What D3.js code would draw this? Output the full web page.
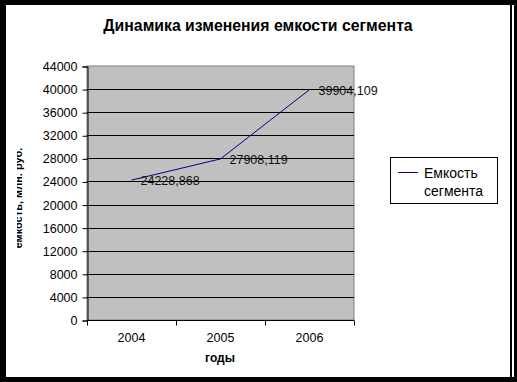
<!DOCTYPE html>
<html lang="ru">
<head>
<meta charset="UTF-8">
<title>Динамика изменения емкости сегмента</title>
<script src="https://cdn.jsdelivr.net/npm/d3@7"></script>
<style>
  body { margin: 0; background: #fff; }
  svg { display: block; font-family: "Liberation Sans", Arial, sans-serif; }
</style>
</head>
<body>
<svg id="chart" width="517" height="382"></svg>
<script>
var years = ["2004", "2005", "2006"];
var capacity = [24228.868, 27908.119, 39904.109];
var valueLabels = ["24228,868", "27908,119", "39904,109"];
var yTicks = [0, 4000, 8000, 12000, 16000, 20000, 24000, 28000, 32000, 36000, 40000, 44000];

var svg = d3.select("#chart");

// black frame around the picture
svg.append("rect").attr("width", 517).attr("height", 382).attr("fill", "#000");
svg.append("rect").attr("x", 6).attr("y", 5).attr("width", 508).attr("height", 372).attr("fill", "#fff");
svg.append("rect").attr("x", 510).attr("y", 5).attr("width", 2).attr("height", 372).attr("fill", "#000");

var plot = {left: 87, top: 66, right: 354, bottom: 320};

var x = d3.scaleBand().domain(years).range([plot.left, plot.right]);
var y = d3.scaleLinear().domain([0, 44000]).range([plot.bottom, plot.top]);

svg.append("rect")
    .attr("x", plot.left).attr("y", plot.top)
    .attr("width", plot.right - plot.left).attr("height", plot.bottom - plot.top)
    .attr("fill", "#c0c0c0").attr("stroke", "#808080").attr("stroke-width", 1);

// gridlines
svg.append("g").selectAll("line").data(yTicks.slice(1, -1)).join("line")
    .attr("x1", plot.left).attr("x2", plot.right)
    .attr("y1", function (d) { return Math.round(y(d)) + 0.5; })
    .attr("y2", function (d) { return Math.round(y(d)) + 0.5; })
    .attr("stroke", "#000");

var yAxis = svg.append("g")
    .attr("transform", "translate(" + (plot.left + 0.5) + ",0.5)")
    .call(d3.axisLeft(y).tickValues(yTicks).tickSize(5).tickPadding(5).tickFormat(d3.format("d")));
yAxis.select(".domain").attr("stroke", "#000");
yAxis.selectAll("text").attr("font-size", 12.5).attr("fill", "#000").attr("font-family", "Liberation Sans, Arial, sans-serif");

var xAxis = svg.append("g").attr("transform", "translate(0," + (plot.bottom + 0.5) + ")");
xAxis.append("line").attr("x1", plot.left).attr("x2", plot.right).attr("stroke", "#000");
var bounds = years.map(function (d) { return x(d); }).concat([plot.right]);
xAxis.selectAll(".tk").data(bounds).join("line")
    .attr("x1", function (d) { return Math.round(d) + 0.5; })
    .attr("x2", function (d) { return Math.round(d) + 0.5; })
    .attr("y1", 0).attr("y2", 5).attr("stroke", "#000");
xAxis.selectAll("text").data(years).join("text")
    .attr("x", function (d) { return x(d) + x.bandwidth() / 2; })
    .attr("y", 21)
    .attr("text-anchor", "middle").attr("font-size", 12.5).text(function (d) { return d; });

// series line
var pts = years.map(function (d, i) { return [x(d) + x.bandwidth() / 2, y(capacity[i])]; });
svg.append("path")
    .attr("d", d3.line()(pts))
    .attr("fill", "none").attr("stroke", "#000080").attr("stroke-width", 1);

svg.append("g").selectAll("text").data(pts).join("text")
    .attr("x", function (d) { return d[0] + 9; })
    .attr("y", function (d) { return d[1] + 5; })
    .attr("font-size", 12.5).attr("fill", "#111")
    .text(function (d, i) { return valueLabels[i]; });

// titles
svg.append("text").attr("x", 258).attr("y", 31).attr("text-anchor", "middle")
    .attr("font-size", 15.8).attr("font-weight", "bold").text("Динамика изменения емкости сегмента");
svg.append("text").attr("x", 220).attr("y", 362).attr("text-anchor", "middle")
    .attr("font-size", 12).attr("font-weight", "bold").text("годы");

// y-axis title, clipped on the left as in the source
svg.append("clipPath").attr("id", "yclip").append("rect")
    .attr("x", 17).attr("y", 100).attr("width", 20).attr("height", 200);
svg.append("g").attr("clip-path", "url(#yclip)")
  .append("text")
    .attr("transform", "translate(22,198) rotate(-90)")
    .attr("text-anchor", "middle").attr("font-size", 11).attr("font-weight", "bold")
    .text("емкость, млн. руб.");

// legend
var lg = svg.append("g").attr("transform", "translate(390,157)");
lg.append("rect").attr("x", 0.5).attr("y", 0.5).attr("width", 107).attr("height", 46)
    .attr("fill", "#fff").attr("stroke", "#000");
lg.append("line").attr("x1", 8).attr("x2", 28).attr("y1", 15.5).attr("y2", 15.5)
    .attr("stroke", "#000080");
lg.append("text").attr("x", 34).attr("y", 21).attr("font-size", 14).text("Емкость");
lg.append("text").attr("x", 34).attr("y", 39).attr("font-size", 14).text("сегмента");
</script>
</body>
</html>
